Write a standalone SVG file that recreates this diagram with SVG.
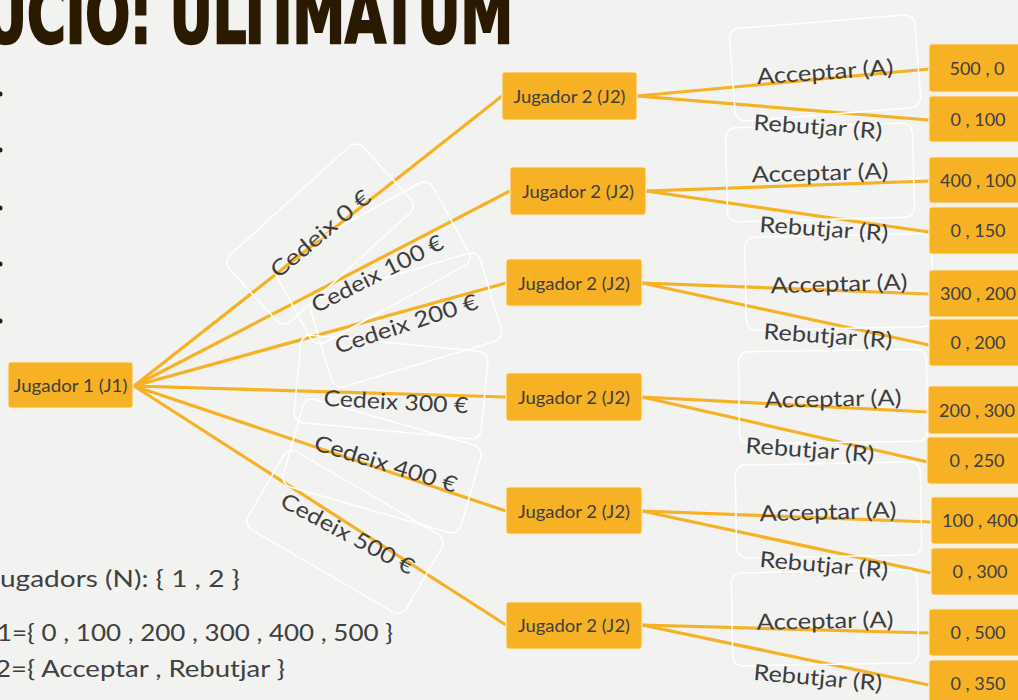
<svg xmlns="http://www.w3.org/2000/svg" width="1018" height="700" viewBox="0 0 1018 700">
<defs>
<style>
.bg{fill:#f2f2f0}
.title{font-family:"Liberation Sans Narrow","DejaVu Sans Condensed","Liberation Sans",sans-serif;font-weight:900;font-size:80px;fill:#2b1a02;stroke:#2b1a02;stroke-width:2.5}
.node{fill:#f6b124;stroke:#fde9c0;stroke-width:1.2}
.nt{font-family:Lato,"Open Sans",sans-serif;font-size:18px;fill:#404040;text-anchor:middle;dominant-baseline:central}
.lt{font-family:Lato,"Open Sans",sans-serif;font-size:18px;fill:#404040;text-anchor:middle;dominant-baseline:central}
.edge{stroke:#f6b124;stroke-width:3.2;fill:none}
.lbox{fill:none;stroke:#ffffff;stroke-width:1.5}
.el{font-family:Lato,"Open Sans",sans-serif;font-size:22px;fill:#3d3d3d;text-anchor:middle;dominant-baseline:central}
.body{font-family:Lato,"Open Sans",sans-serif;font-size:23px;fill:#404040}
.bul{fill:#2b1a02}
</style>
</defs>
<rect class="bg" x="0" y="0" width="1018" height="700"/>

<text class="title" x="-16" y="43" textLength="529" lengthAdjust="spacingAndGlyphs">UCIO: ULTIMATUM</text>

<g id="bullets">
<circle class="bul" cx="0" cy="94" r="2.5"/>
<circle class="bul" cx="0" cy="150" r="2.5"/>
<circle class="bul" cx="0" cy="208" r="2.5"/>
<circle class="bul" cx="0" cy="264" r="2.5"/>
<circle class="bul" cx="0" cy="321" r="2.5"/>
</g>

<g id="body-text">
<text class="body" x="0" y="587" textLength="240" lengthAdjust="spacingAndGlyphs">ugadors (N):  { 1 , 2 }</text>
<text class="body" x="-3" y="641" textLength="396" lengthAdjust="spacingAndGlyphs">1={ 0 , 100 , 200 , 300 , 400 , 500 }</text>
<text class="body" x="-5" y="677" textLength="290" lengthAdjust="spacingAndGlyphs">2={ Acceptar , Rebutjar }</text>
</g>

<g id="connectors">
<line class="edge" x1="134" y1="386" x2="502" y2="96"/>
<line class="edge" x1="134" y1="386" x2="510" y2="191"/>
<line class="edge" x1="134" y1="386" x2="506" y2="283"/>
<line class="edge" x1="134" y1="386" x2="506" y2="397"/>
<line class="edge" x1="134" y1="386" x2="506" y2="511"/>
<line class="edge" x1="134" y1="386" x2="506" y2="625"/>
<line class="edge" x1="637" y1="96" x2="929" y2="69"/>
<line class="edge" x1="637" y1="96" x2="929" y2="120"/>
<line class="edge" x1="646" y1="191" x2="929" y2="181"/>
<line class="edge" x1="646" y1="191" x2="929" y2="232"/>
<line class="edge" x1="642" y1="283" x2="929" y2="294"/>
<line class="edge" x1="642" y1="283" x2="929" y2="345"/>
<line class="edge" x1="642" y1="397" x2="928" y2="412"/>
<line class="edge" x1="642" y1="397" x2="928" y2="462"/>
<line class="edge" x1="642" y1="511" x2="931" y2="522"/>
<line class="edge" x1="642" y1="511" x2="931" y2="573"/>
<line class="edge" x1="642" y1="625" x2="929" y2="633"/>
<line class="edge" x1="642" y1="625" x2="929" y2="685"/>
</g>

<g id="edge-label-boxes">
<rect class="lbox" x="-90.5" y="-45" width="181" height="90" rx="10" transform="translate(320,234) rotate(-42.3)"/>
<rect class="lbox" x="-90" y="-47" width="180" height="94" rx="10" transform="translate(372,263) rotate(-28.8)"/>
<rect class="lbox" x="-88.5" y="-46" width="177" height="92" rx="10" transform="translate(406,320) rotate(-16.7)"/>
<rect class="lbox" x="-94" y="-44" width="188" height="88" rx="10" transform="translate(391,387) rotate(5.5)"/>
<rect class="lbox" x="-92.5" y="-45.5" width="185" height="91" rx="10" transform="translate(382,466) rotate(16)"/>
<rect class="lbox" x="-91.5" y="-45" width="183" height="90" rx="10" transform="translate(345,532) rotate(30.2)"/>
<rect class="lbox" x="-93" y="-46.5" width="186" height="93" rx="10" transform="translate(825,68) rotate(-4.6)"/>
<rect class="lbox" x="-93.5" y="-47" width="187" height="94" rx="10" transform="translate(820,172.5) rotate(-1.5)"/>
<rect class="lbox" x="-93.5" y="-46.5" width="187" height="93" rx="10" transform="translate(839,282) rotate(-1.2)"/>
<rect class="lbox" x="-94" y="-46" width="188" height="92" rx="10" transform="translate(833,396.5) rotate(-0.9)"/>
<rect class="lbox" x="-92.5" y="-46.5" width="185" height="93" rx="10" transform="translate(828.5,510) rotate(-1)"/>
<rect class="lbox" x="-93" y="-46.5" width="186" height="93" rx="10" transform="translate(825,618) rotate(-1)"/>
</g>

<g id="edge-labels">
<text class="el" transform="translate(320,233) rotate(-40)" textLength="123" lengthAdjust="spacingAndGlyphs">Cedeix 0 €</text>
<text class="el" transform="translate(377,273) rotate(-27)" textLength="145" lengthAdjust="spacingAndGlyphs">Cedeix 100 €</text>
<text class="el" transform="translate(406,323) rotate(-18)" textLength="149" lengthAdjust="spacingAndGlyphs">Cedeix 200 €</text>
<text class="el" transform="translate(396,401) rotate(3)" textLength="145" lengthAdjust="spacingAndGlyphs">Cedeix 300 €</text>
<text class="el" transform="translate(386,463) rotate(17)" textLength="148" lengthAdjust="spacingAndGlyphs">Cedeix 400 €</text>
<text class="el" transform="translate(348,533) rotate(28)" textLength="148" lengthAdjust="spacingAndGlyphs">Cedeix 500 €</text>

<text class="el" transform="translate(825,71) rotate(-4)" textLength="137" lengthAdjust="spacingAndGlyphs">Acceptar (A)</text>
<text class="el" transform="translate(818,126) rotate(4)" textLength="129" lengthAdjust="spacingAndGlyphs">Rebutjar (R)</text>
<text class="el" transform="translate(820,172) rotate(-1.5)" textLength="137" lengthAdjust="spacingAndGlyphs">Acceptar (A)</text>
<text class="el" transform="translate(824,228) rotate(4)" textLength="129" lengthAdjust="spacingAndGlyphs">Rebutjar (R)</text>
<text class="el" transform="translate(839,283) rotate(-1.5)" textLength="137" lengthAdjust="spacingAndGlyphs">Acceptar (A)</text>
<text class="el" transform="translate(828,335) rotate(4)" textLength="129" lengthAdjust="spacingAndGlyphs">Rebutjar (R)</text>
<text class="el" transform="translate(833,398) rotate(-1)" textLength="137" lengthAdjust="spacingAndGlyphs">Acceptar (A)</text>
<text class="el" transform="translate(810,449) rotate(4)" textLength="129" lengthAdjust="spacingAndGlyphs">Rebutjar (R)</text>
<text class="el" transform="translate(828,511) rotate(-1.5)" textLength="137" lengthAdjust="spacingAndGlyphs">Acceptar (A)</text>
<text class="el" transform="translate(824,564) rotate(5)" textLength="129" lengthAdjust="spacingAndGlyphs">Rebutjar (R)</text>
<text class="el" transform="translate(825,620) rotate(-1)" textLength="137" lengthAdjust="spacingAndGlyphs">Acceptar (A)</text>
<text class="el" transform="translate(818,677) rotate(5)" textLength="129" lengthAdjust="spacingAndGlyphs">Rebutjar (R)</text>
</g>

<g id="node-j1"><rect class="node" x="8" y="362" width="125" height="46" rx="3"/><text class="nt" x="70.5" y="385" textLength="114" lengthAdjust="spacingAndGlyphs">Jugador 1 (J1)</text></g>

<g id="node-j2-1"><rect class="node" x="502" y="72" width="135" height="48" rx="3"/><text class="nt" x="569.5" y="96" textLength="112" lengthAdjust="spacingAndGlyphs">Jugador 2 (J2)</text></g>
<g id="node-j2-2"><rect class="node" x="510" y="167" width="136" height="48" rx="3"/><text class="nt" x="578" y="191" textLength="112" lengthAdjust="spacingAndGlyphs">Jugador 2 (J2)</text></g>
<g id="node-j2-3"><rect class="node" x="506" y="259" width="136" height="47" rx="3"/><text class="nt" x="574" y="283" textLength="112" lengthAdjust="spacingAndGlyphs">Jugador 2 (J2)</text></g>
<g id="node-j2-4"><rect class="node" x="506" y="373" width="136" height="48" rx="3"/><text class="nt" x="574" y="397" textLength="112" lengthAdjust="spacingAndGlyphs">Jugador 2 (J2)</text></g>
<g id="node-j2-5"><rect class="node" x="506" y="487" width="136" height="47" rx="3"/><text class="nt" x="574" y="511" textLength="112" lengthAdjust="spacingAndGlyphs">Jugador 2 (J2)</text></g>
<g id="node-j2-6"><rect class="node" x="506" y="602" width="136" height="47" rx="3"/><text class="nt" x="574" y="625" textLength="112" lengthAdjust="spacingAndGlyphs">Jugador 2 (J2)</text></g>

<g id="leaf-1"><rect class="node" x="929" y="44" width="100" height="48" rx="3"/><text class="lt" x="977" y="68">500 , 0</text></g>
<g id="leaf-2"><rect class="node" x="929" y="96" width="100" height="46" rx="3"/><text class="lt" x="978" y="119">0 , 100</text></g>
<g id="leaf-3"><rect class="node" x="929" y="157" width="100" height="46" rx="3"/><text class="lt" x="978" y="180">400 , 100</text></g>
<g id="leaf-4"><rect class="node" x="929" y="207" width="100" height="47" rx="3"/><text class="lt" x="978" y="230">0 , 150</text></g>
<g id="leaf-5"><rect class="node" x="929" y="270" width="100" height="47" rx="3"/><text class="lt" x="978" y="293">300 , 200</text></g>
<g id="leaf-6"><rect class="node" x="929" y="319" width="100" height="47" rx="3"/><text class="lt" x="978" y="342">0 , 200</text></g>
<g id="leaf-7"><rect class="node" x="928" y="386" width="100" height="48" rx="3"/><text class="lt" x="977" y="410">200 , 300</text></g>
<g id="leaf-8"><rect class="node" x="927" y="437" width="100" height="47" rx="3"/><text class="lt" x="977" y="460">0 , 250</text></g>
<g id="leaf-9"><rect class="node" x="931" y="497" width="100" height="47" rx="3"/><text class="lt" x="980" y="520">100 , 400</text></g>
<g id="leaf-10"><rect class="node" x="931" y="548" width="100" height="47" rx="3"/><text class="lt" x="980" y="571">0 , 300</text></g>
<g id="leaf-11"><rect class="node" x="929" y="609" width="100" height="47" rx="3"/><text class="lt" x="978" y="632">0 , 500</text></g>
<g id="leaf-12"><rect class="node" x="929" y="660" width="100" height="48" rx="3"/><text class="lt" x="978" y="683">0 , 350</text></g>
</svg>
